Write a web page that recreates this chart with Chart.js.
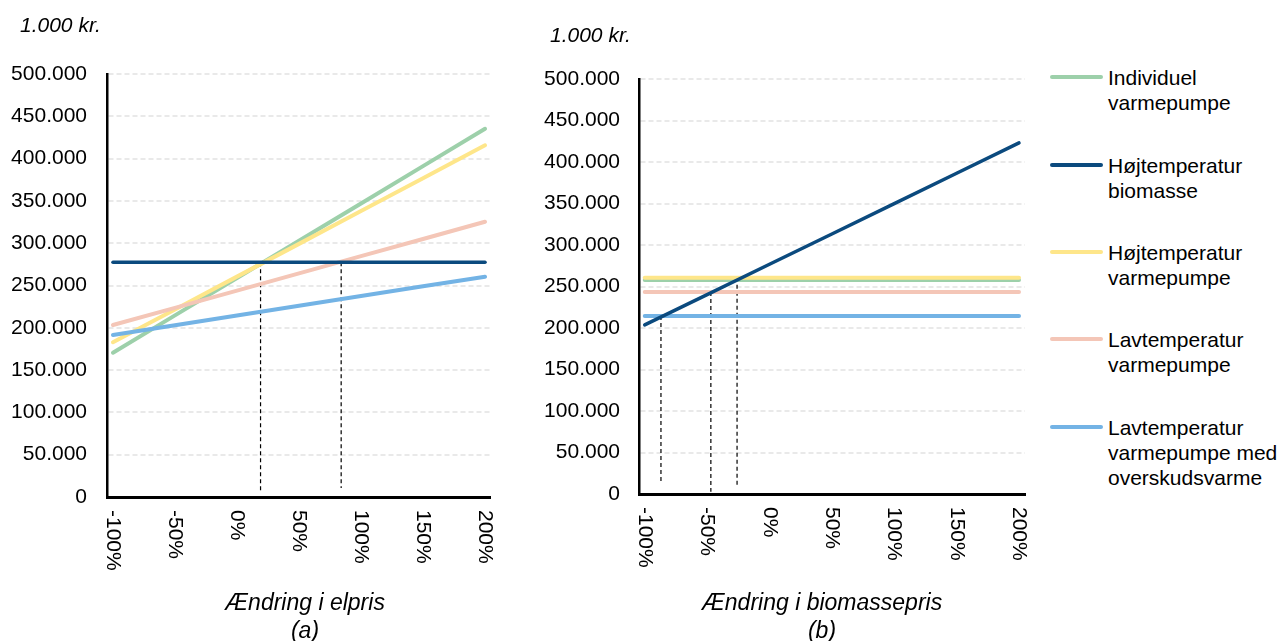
<!DOCTYPE html>
<html lang="da">
<head>
<meta charset="utf-8">
<title>Følsomhed over for el- og biomassepris</title>
<script src="https://cdn.jsdelivr.net/npm/chart.js@4.4.1/dist/chart.umd.min.js"></script>
<style>
  html, body { margin: 0; padding: 0; background: #fff; }
  #wrap { position: relative; width: 1280px; height: 641px; overflow: hidden;
          font-family: "Liberation Sans", Arial, sans-serif; color: #000; }
  canvas { position: absolute; top: 0; }
  .unit { position: absolute; font-size: 21px; font-style: italic; line-height: 24px; white-space: nowrap; }
  .xtitle { position: absolute; font-size: 23px; font-style: italic; line-height: 28px;
            text-align: center; width: 400px; white-space: nowrap; }
  .leg { position: absolute; left: 1050px; }
  .leg .swatch { position: absolute; left: 0; width: 53px; height: 4px; border-radius: 2px; }
  .leg .txt { position: absolute; left: 58px; font-size: 21px; line-height: 25px; white-space: nowrap; }
</style>
</head>
<body>
<div id="wrap">
  <canvas id="chartEl" width="520" height="641" style="left:0"></canvas>
  <canvas id="chartBio" width="520" height="641" style="left:520px"></canvas>

  <div class="unit" style="left:20px; top:13px">1.000 kr.</div>
  <div class="unit" style="left:550px; top:23px">1.000 kr.</div>

  <div class="xtitle" style="left:105px; top:588px">Ændring i elpris<br>(a)</div>
  <div class="xtitle" style="left:622px; top:588px">Ændring i biomassepris<br>(b)</div>

  <div id="legend"></div>
</div>

<script>
// Change in price, percent
const pctSteps = [-100, -50, 0, 50, 100, 150, 200];
const xTickLabels = ['-100%', '-50%', '0%', '50%', '100%', '150%', '200%'];
const yTicks = [0, 50000, 100000, 150000, 200000, 250000, 300000, 350000, 400000, 450000, 500000];

const seriesNames = [
  ['Individuel', 'varmepumpe'],
  ['Højtemperatur', 'biomasse'],
  ['Højtemperatur', 'varmepumpe'],
  ['Lavtemperatur', 'varmepumpe'],
  ['Lavtemperatur', 'varmepumpe med', 'overskudsvarme']
];
const seriesColors = ['#9dd0aa', '#0b4a7e', '#fee68a', '#f4c6b7', '#73b3e5'];

// (a) Annual cost vs. change in electricity price (1.000 kr.)
const elIndividuel   = [170600, 214700, 258800, 302800, 346900, 391100, 435300];
const elHojBiomasse  = [277400, 277400, 277400, 277400, 277400, 277400, 277400];
const elHojVP        = [182900, 221700, 260500, 299200, 338000, 376800, 415700];
const elLavVP        = [203300, 223600, 244000, 264300, 284700, 305000, 325400];
const elLavOversk    = [191500, 203000, 214500, 226000, 237500, 249000, 260400];

// (b) Annual cost vs. change in biomass price (1.000 kr.)
const bioIndividuel  = [257800, 257800, 257800, 257800, 257800, 257800, 257800];
const bioHojBiomasse = [203700, 240200, 276800, 313300, 349800, 386400, 423000];
const bioHojVP       = [260600, 260600, 260600, 260600, 260600, 260600, 260600];
const bioLavVP       = [243400, 243400, 243400, 243400, 243400, 243400, 243400];
const bioLavOversk   = [214500, 214500, 214500, 214500, 214500, 214500, 214500];

// Break-even markers: [pct, value at crossing, value at lower end]
const elBreakEven  = [[19, 277400, 4700], [84, 277400, 10600]];
const bioBreakEven = [[-87, 214500, 12400], [-47, 243400, 2800], [-26, 260600, 8800]];

const FONT = '"Liberation Sans", Arial, sans-serif';

function fmtThousands(v) {
  return String(v).replace(/\B(?=(\d{3})+(?!\d))/g, '.');
}

function toPoints(values) {
  return pctSteps.map((p, i) => ({ x: p, y: values[i] }));
}

function seriesDatasets(seriesValues, drawOrder) {
  return seriesValues.map((vals, i) => ({
    label: seriesNames[i].join(' '),
    data: toPoints(vals),
    borderColor: seriesColors[i],
    backgroundColor: seriesColors[i],
    borderWidth: i === 1 ? 3.5 : 4,
    borderCapStyle: 'round',
    pointRadius: 0,
    fill: false,
    order: drawOrder[i]
  }));
}

function markerDatasets(markers) {
  return markers.map(m => ({
    label: 'break-even',
    data: [{ x: m[0], y: m[1] }, { x: m[0], y: m[2] }],
    borderColor: '#000',
    borderWidth: 1.2,
    borderDash: [4, 3],
    pointRadius: 0,
    fill: false,
    order: 10
  }));
}

// Tick labels on the x axis, turned a quarter clockwise
const rotatedXLabels = {
  id: 'rotatedXLabels',
  afterDraw(chart) {
    const s = chart.scales.x;
    const ctx = chart.ctx;
    ctx.save();
    ctx.font = '21px ' + FONT;
    ctx.fillStyle = '#000';
    ctx.textAlign = 'left';
    ctx.textBaseline = 'middle';
    pctSteps.forEach((p, i) => {
      const x = s.getPixelForValue(p);
      ctx.save();
      ctx.translate(x, s.top + 13);
      ctx.rotate(Math.PI / 2);
      ctx.fillText(xTickLabels[i], 0, 0);
      ctx.restore();
    });
    ctx.restore();
  }
};

function makeChart(id, datasets, geo) {
  return new Chart(document.getElementById(id), {
    type: 'line',
    data: { datasets },
    plugins: [rotatedXLabels],
    options: {
      responsive: false,
      animation: false,
      devicePixelRatio: 1,
      layout: { padding: { top: geo.top, right: geo.right, bottom: 0, left: 0 } },
      plugins: { legend: { display: false }, tooltip: { enabled: false }, title: { display: false } },
      scales: {
        x: {
          type: 'linear',
          min: geo.xmin,
          max: geo.xmax,
          afterFit: s => { s.height = geo.xHeight; },
          afterBuildTicks: s => { s.ticks = pctSteps.map(v => ({ value: v })); },
          ticks: { display: false },
          grid: { display: false, drawTicks: false },
          border: { display: true, color: '#000', width: 3 }
        },
        y: {
          min: 0,
          max: 500000,
          afterFit: s => { s.width = geo.yWidth; },
          afterBuildTicks: s => { s.ticks = yTicks.map(v => ({ value: v })); },
          ticks: {
            padding: geo.tickPad,
            color: '#000',
            font: { family: FONT, size: 21 },
            callback: v => fmtThousands(v)
          },
          grid: {
            drawTicks: false,
            lineWidth: 2,
            color: ctx => (ctx.tick && ctx.tick.value === 0) ? 'rgba(0,0,0,0)' : '#e9e9e9'
          },
          border: { display: true, color: '#000', width: 2.5, dash: [5, 3] }
        }
      }
    }
  });
}

makeChart('chartEl',
  seriesDatasets([elIndividuel, elHojBiomasse, elHojVP, elLavVP, elLavOversk], [5, 2, 4, 3, 1])
    .concat(markerDatasets(elBreakEven)),
  { top: 74, right: 30, xHeight: 144, yWidth: 107, tickPad: 20, xmin: -104.8, xmax: 204 });

makeChart('chartBio',
  seriesDatasets([bioIndividuel, bioHojBiomasse, bioHojVP, bioLavVP, bioLavOversk], [5, 1, 4, 3, 2])
    .concat(markerDatasets(bioBreakEven)),
  { top: 79, right: 15, xHeight: 147, yWidth: 119, tickPad: 19, xmin: -104.6, xmax: 204.8 });

// Legend, shared by both panels
const legendTops = [77, 165, 252, 339, 427];
const legend = document.getElementById('legend');
seriesNames.forEach((lines, i) => {
  const item = document.createElement('div');
  item.className = 'leg';
  item.style.top = (legendTops[i] - 12.5) + 'px';
  const sw = document.createElement('div');
  sw.className = 'swatch';
  sw.style.top = '10.5px';
  sw.style.background = seriesColors[i];
  const txt = document.createElement('div');
  txt.className = 'txt';
  txt.style.top = '0px';
  txt.innerHTML = lines.join('<br>');
  item.appendChild(sw);
  item.appendChild(txt);
  legend.appendChild(item);
});
</script>
</body>
</html>
